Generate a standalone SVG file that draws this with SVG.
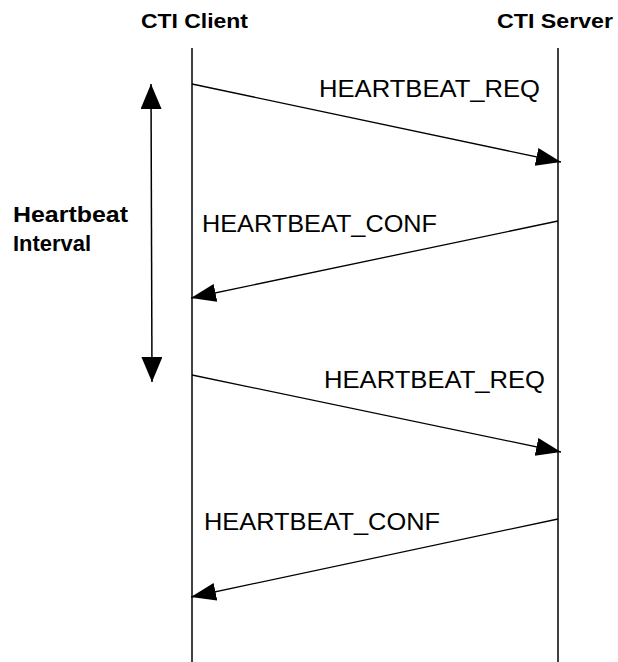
<svg xmlns="http://www.w3.org/2000/svg" width="618" height="662" viewBox="0 0 618 662">
<style>
.title{font-family:"Liberation Sans",Arial,sans-serif;font-weight:bold;font-size:21px;fill:#000}
.side{font-family:"Liberation Sans",Arial,sans-serif;font-weight:bold;font-size:22px;fill:#000}
.lbl{font-family:"Liberation Sans",Arial,sans-serif;font-size:24px;fill:#000}
.life{stroke:#000;stroke-width:1.5;fill:none}
.msg{stroke:#000;stroke-width:1.3;fill:none;marker-end:url(#ah)}
</style>
<defs>
<marker id="ah" markerUnits="userSpaceOnUse" markerWidth="26" markerHeight="20" refX="25" refY="9" orient="auto" viewBox="0 0 26 20">
<path d="M0,0 L25,9 L0,18 Z" fill="#000"/>
</marker>
<marker id="ahs" markerUnits="userSpaceOnUse" markerWidth="26" markerHeight="22" refX="25" refY="10.5" orient="auto-start-reverse" viewBox="0 0 26 22">
<path d="M0,0 L25,10.5 L0,21 Z" fill="#000"/>
</marker>
</defs>
<rect width="618" height="662" fill="#fff"/>
<g id="client">
<text class="title" x="141" y="28" textLength="107" lengthAdjust="spacingAndGlyphs">CTI Client</text>
<line class="life" x1="192" y1="48" x2="192" y2="662"/>
</g>
<g id="server">
<text class="title" x="497" y="28" textLength="116" lengthAdjust="spacingAndGlyphs">CTI Server</text>
<line class="life" x1="558" y1="48" x2="558" y2="662"/>
</g>
<g id="interval">
<text class="side" x="13" y="222" textLength="115" lengthAdjust="spacingAndGlyphs">Heartbeat</text>
<text class="side" x="13" y="251" textLength="78" lengthAdjust="spacingAndGlyphs">Interval</text>
</g>
<g id="connectors">
<line x1="151" y1="84" x2="152" y2="382" stroke="#000" stroke-width="1.5" marker-start="url(#ahs)" marker-end="url(#ahs)"/>
<line class="msg" x1="192" y1="84" x2="561" y2="162"/>
<line class="msg" x1="558" y1="221" x2="191" y2="298"/>
<line class="msg" x1="192" y1="375" x2="561" y2="452"/>
<line class="msg" x1="558" y1="519" x2="191" y2="597"/>
</g>
<g id="labels">
<text class="lbl" x="319" y="97" textLength="221" lengthAdjust="spacingAndGlyphs">HEARTBEAT_REQ</text>
<text class="lbl" x="202" y="232" textLength="235" lengthAdjust="spacingAndGlyphs">HEARTBEAT_CONF</text>
<text class="lbl" x="324" y="388" textLength="221" lengthAdjust="spacingAndGlyphs">HEARTBEAT_REQ</text>
<text class="lbl" x="204" y="530" textLength="236" lengthAdjust="spacingAndGlyphs">HEARTBEAT_CONF</text>
</g>
</svg>
